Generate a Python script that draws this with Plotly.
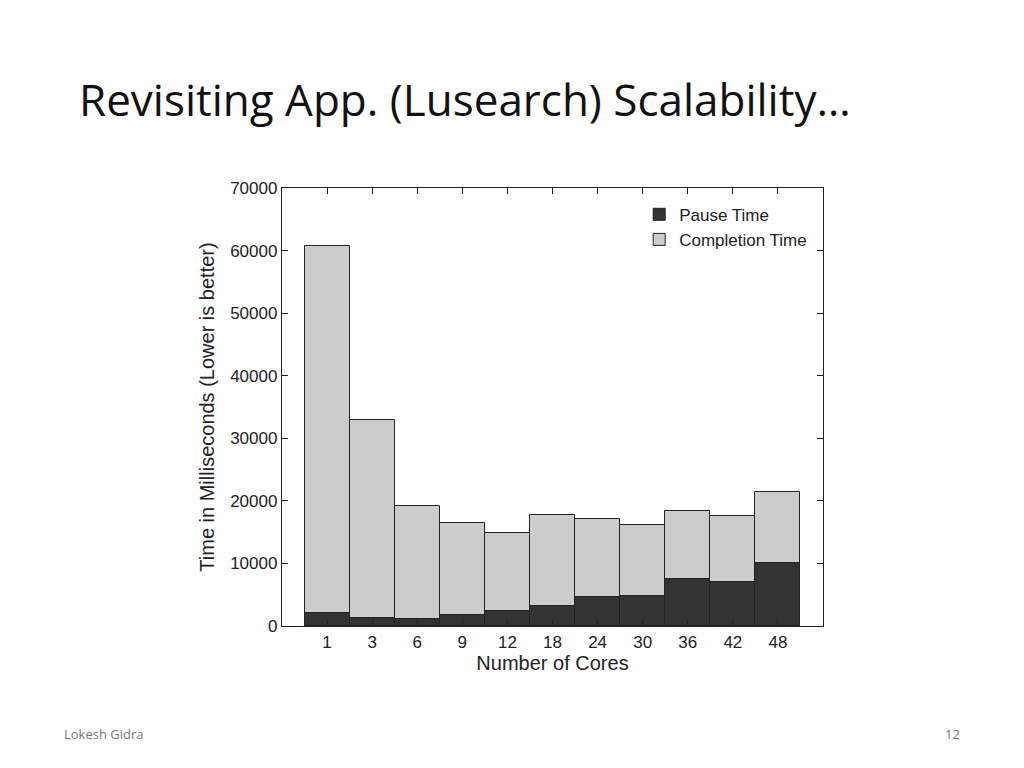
import plotly.graph_objects as go

cores = ["1", "3", "6", "9", "12", "18", "24", "30", "36", "42", "48"]
completion = [60700, 32900, 19200, 16500, 14900, 17700, 17100, 16100, 18400, 17600, 21400]
pause = [2000, 1300, 1100, 1750, 2400, 3200, 4600, 4800, 7500, 7000, 10000]

xs = list(range(len(cores)))
fig = go.Figure()
fig.add_bar(x=xs, y=completion, name="Completion Time", marker=dict(color="#cccccc", line=dict(color="#222", width=1)))
fig.add_bar(x=xs, y=pause, name="Pause Time", marker=dict(color="#333333", line=dict(color="#222", width=1)))

ax = dict(showline=True, linecolor="#222", linewidth=1.3, mirror="ticks", ticks="inside", ticklen=6,
          tickcolor="#222", showgrid=False, zeroline=False)
fig.update_layout(
    width=1024, height=768, paper_bgcolor="white", plot_bgcolor="white",
    barmode="overlay", bargap=0,
    margin=dict(l=274, r=209, t=180, b=150),
    font=dict(family="Liberation Sans", size=17, color="#222"),
    xaxis=dict(**ax, tickmode="array", tickvals=xs, ticktext=cores, range=[-1, 11],
               title=dict(text="Number of Cores", standoff=0)),
    yaxis=dict(**ax, range=[0, 70000], dtick=10000, tickformat="d",
               title=dict(text="Time in Milliseconds (Lower is better)", standoff=10)),
    legend=dict(x=0.98, y=0.98, xanchor="right", yanchor="top", traceorder="reversed",
                bgcolor="rgba(0,0,0,0)", font=dict(size=17)),
    showlegend=True,
    annotations=[
        dict(text="Revisiting App. (Lusearch) Scalability…", xref="paper", yref="paper",
             x=-0.379, y=1.203, xanchor="left", yanchor="middle", showarrow=False,
             font=dict(family="Open Sans", size=44, color="#111")),
        dict(text="Lokesh Gidra", xref="paper", yref="paper", x=-0.407, y=-0.247,
             xanchor="left", yanchor="middle", showarrow=False, font=dict(family="Open Sans", size=13, color="#777")),
        dict(text="12", xref="paper", yref="paper", x=1.257, y=-0.247,
             xanchor="right", yanchor="middle", showarrow=False, font=dict(family="Open Sans", size=13, color="#777")),
    ],
)
fig.write_html("out.html")
